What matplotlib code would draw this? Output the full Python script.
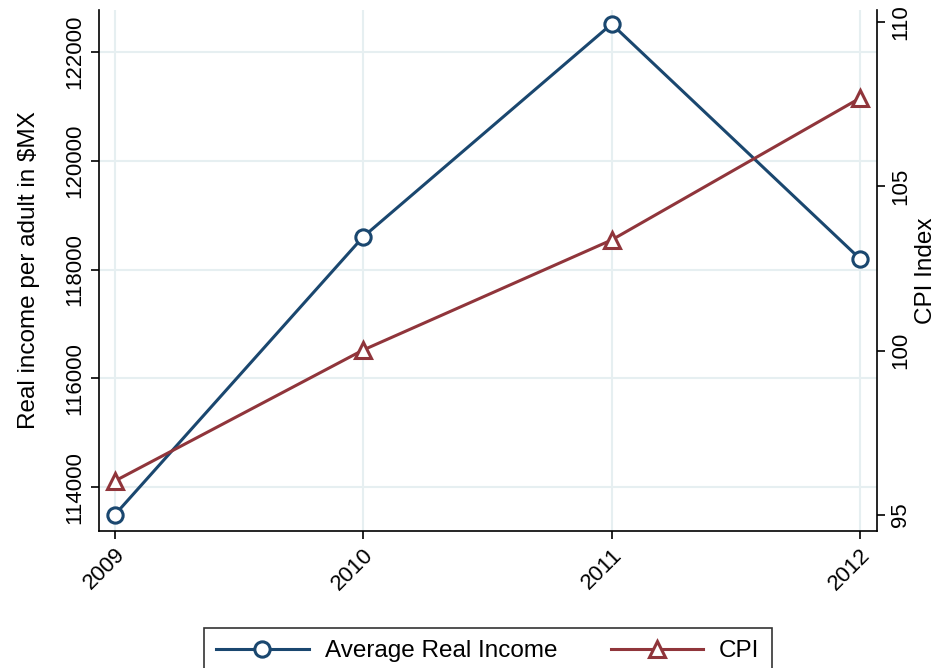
import numpy as np
import matplotlib
matplotlib.use("Agg")
import matplotlib.pyplot as plt

plt.rcParams['font.family'] = ['Liberation Sans', 'DejaVu Sans']

# data
years = [2009, 2010, 2011, 2012]
income = [113485, 118600, 122515, 118195]
cpi = [96.03, 100.02, 103.37, 107.69]
income_ticks = [114000, 116000, 118000, 120000, 122000]
cpi_ticks = [95, 100, 105, 110]

blue = '#1a476f'
red = '#90353b'
grid = '#e6eff1'

fig = plt.figure(figsize=(9.4, 6.68), dpi=100)
ax = fig.add_axes([0.105, 0.205, 0.828, 0.78])
ax2 = ax.twinx()

for y in income_ticks:
    ax.axhline(y, color=grid, lw=1.5, zorder=0)
for x in years:
    ax.axvline(x, color=grid, lw=1.5, zorder=0)

l1, = ax.plot(years, income, color=blue, lw=2.2, marker='o', ms=11,
              mfc='white', mew=2.2, mec=blue, label='Average Real Income', zorder=3)
l2, = ax2.plot(years, cpi, color=red, lw=2.2, marker='^', ms=12,
               mfc='white', mew=2.2, mec=red, label='CPI', zorder=3)

ax.set_xlim(2008.936, 2012.068)
ax.set_ylim(113191, 122772)
ax2.set_ylim(94.51, 110.37)

ax.set_xticks(years)
ax.set_xticklabels([str(y) for y in years], rotation=45, ha='right',
                   rotation_mode='anchor', fontsize=16)
ax.set_yticks(income_ticks)
ax.set_yticklabels([str(v) for v in income_ticks], rotation=90, va='center', fontsize=16)
ax2.set_yticks(cpi_ticks)
ax2.set_yticklabels([str(v) for v in cpi_ticks], rotation=90, va='center', fontsize=16)

ax.set_ylabel('Real income per adult in \\$MX', fontsize=17.5, labelpad=18)
ax2.set_ylabel('CPI Index', fontsize=17.5, labelpad=3)

for a in (ax, ax2):
    a.spines['top'].set_visible(False)
    a.tick_params(direction='out', length=6, width=1.2, colors='black')
for s in ('left', 'bottom', 'right'):
    ax2.spines[s].set_linewidth(1.2)
    ax.spines[s].set_linewidth(1.2)
ax2.spines['left'].set_visible(False)
ax2.spines['bottom'].set_visible(False)
ax.spines['right'].set_visible(False)

leg = fig.legend(handles=[l1, l2], loc='upper center', bbox_to_anchor=(0.519, 0.06),
                 ncol=2, fontsize=17.5, frameon=True, fancybox=False, edgecolor='black',
                 handlelength=3.8, columnspacing=2.2, borderpad=0.5, handletextpad=0.66,
                 borderaxespad=0)
leg.get_frame().set_linewidth(1.2)

fig.savefig('out.png', dpi=100)
